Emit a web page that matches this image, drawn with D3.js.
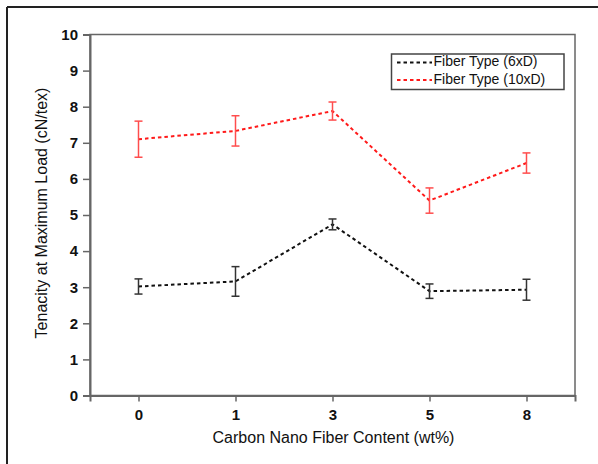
<!DOCTYPE html>
<html><head><meta charset="utf-8">
<script src="https://cdn.jsdelivr.net/npm/d3@7"></script>
<style>body{margin:0;background:#fff}svg{display:block}text{font-family:"Liberation Sans",Arial,sans-serif}</style>
</head><body><svg id="c" width="598" height="464"></svg>
<script>
const categories = ["0","1","3","5","8"];
const yTicks = [0,1,2,3,4,5,6,7,8,9,10];
const series6 = [3.02, 3.16, 4.74, 2.89, 2.93];
const err6 = [0.21, 0.41, 0.15, 0.20, 0.29];
const series10 = [7.10, 7.33, 7.88, 5.40, 6.44];
const err10 = [0.50, 0.42, 0.25, 0.35, 0.28];
const seriesNames = ["Fiber Type (6xD)", "Fiber Type (10xD)"];
const seriesColors = ["#111", "#ff1a1a"];
const errColors = ["#333", "#ff4d4d"];

const svg = d3.select("#c");
const m = {l:90, t:34.5, r:575, b:395.5};
// outer frame
svg.append("line").attr("x1",7).attr("x2",598).attr("y1",7).attr("y2",7).attr("stroke","#222").attr("stroke-width",2);
svg.append("line").attr("x1",7).attr("x2",7).attr("y1",7).attr("y2",464).attr("stroke","#222").attr("stroke-width",2);

const x = d3.scalePoint().domain(categories).range([m.l, m.r]).padding(0.5);
const y = d3.scaleLinear().domain([0,10]).range([m.b, m.t]);

// plot frame
svg.append("rect").attr("x",m.l).attr("y",m.t).attr("width",m.r-m.l).attr("height",m.b-m.t)
  .attr("fill","none").attr("stroke","#666").attr("stroke-width",1.5);

const ya = svg.append("g").attr("transform",`translate(${m.l},0)`)
  .call(d3.axisLeft(y).tickValues(yTicks).tickSize(7).tickPadding(5).tickFormat(d3.format("d")));
const xa = svg.append("g").attr("transform",`translate(0,${m.b})`)
  .call(d3.axisBottom(x).tickSize(6).tickPadding(8));
[ya,xa].forEach(g=>{
  g.select(".domain").attr("stroke","#666").attr("stroke-width",2);
  g.selectAll(".tick line").attr("stroke","#666").attr("stroke-width",1.5);
  g.selectAll(".tick text").attr("fill","#111").style("font-size","15px").style("font-weight","bold")
   .style("font-family","'Liberation Sans',Arial,sans-serif");
});

// titles
svg.append("text").attr("transform",`translate(43,${213}) rotate(-90)`).attr("text-anchor","middle")
  .attr("dominant-baseline","middle").style("font-size","16px").attr("fill","#111").text("Tenacity at Maximum Load (cN/tex)");
svg.append("text").attr("x",(m.l+m.r)/2+1).attr("y",443).attr("text-anchor","middle")
  .style("font-size","16px").attr("fill","#111").text("Carbon Nano Fiber Content (wt%)");

const all = [[series6, err6],[series10, err10]];
const line = d3.line().x((d,i)=>x(categories[i])).y(d=>y(d));
all.forEach(([vals, errs], s) => {
  const g = svg.append("g");
  g.append("path").datum(vals).attr("d", line).attr("fill","none")
    .attr("stroke", seriesColors[s]).attr("stroke-width",2).attr("stroke-dasharray","3.5,3");
  vals.forEach((v,i)=>{
    const cx = x(categories[i]);
    const e = g.append("g").attr("stroke", errColors[s]).attr("stroke-width",1.5);
    e.append("line").attr("x1",cx).attr("x2",cx).attr("y1",y(v+errs[i])).attr("y2",y(v-errs[i]));
    e.append("line").attr("x1",cx-4).attr("x2",cx+4).attr("y1",y(v+errs[i])).attr("y2",y(v+errs[i]));
    e.append("line").attr("x1",cx-4).attr("x2",cx+4).attr("y1",y(v-errs[i])).attr("y2",y(v-errs[i]));
  });
});

// legend
const lg = svg.append("g");
lg.append("rect").attr("x",391.5).attr("y",54).attr("width",172.5).attr("height",35.5)
  .attr("fill","#fff").attr("stroke","#444").attr("stroke-width",1.5);
seriesNames.forEach((n,i)=>{
  const yy = 62.5 + i*17.5;
  lg.append("line").attr("x1",397).attr("x2",432).attr("y1",yy).attr("y2",yy)
    .attr("stroke",seriesColors[i]).attr("stroke-width",2).attr("stroke-dasharray","3.5,3");
  lg.append("text").attr("x",433.5).attr("y",yy).attr("dominant-baseline","middle")
    .style("font-size","14px").attr("fill","#111").text(n);
});
</script></body></html>
